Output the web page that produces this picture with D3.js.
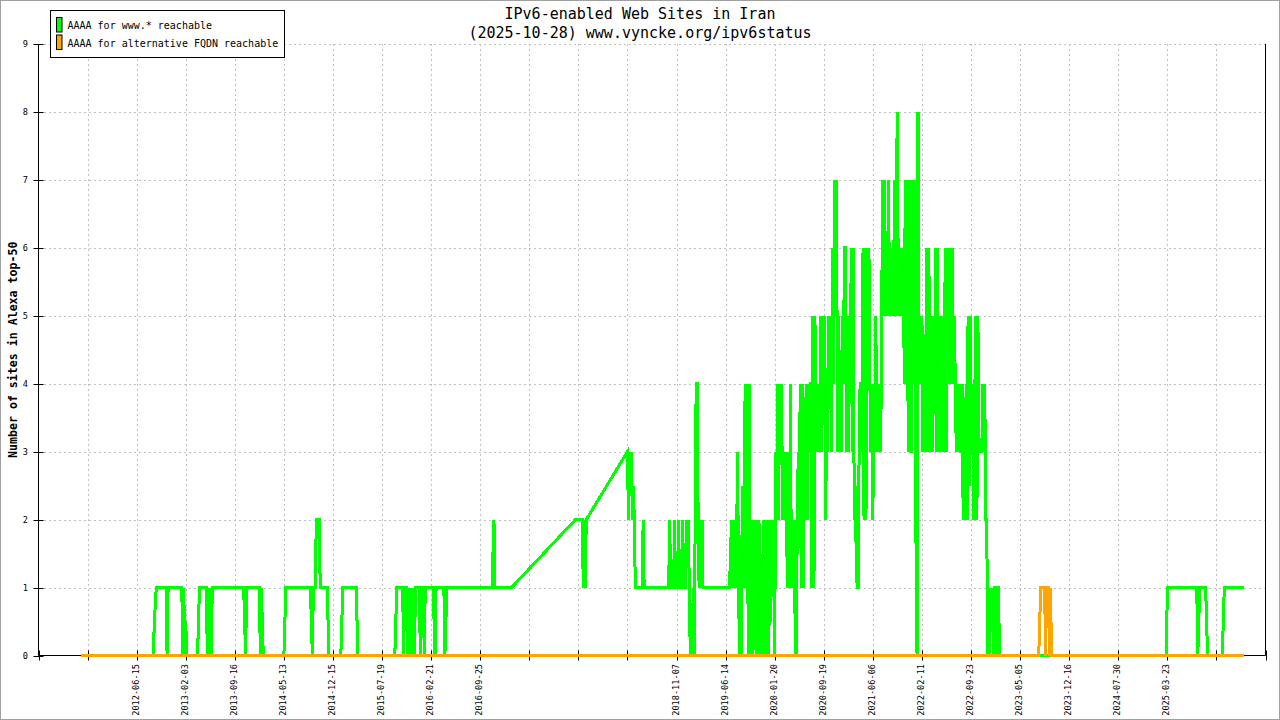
<!DOCTYPE html>
<html>
<head>
<meta charset="utf-8">
<script src="https://cdn.jsdelivr.net/npm/d3@7"></script>
<style>
	body { margin: 0; background: #fff; }
	svg { display: block; }
	text { font-family: "DejaVu Sans Mono", monospace; fill: #000; }
</style>
</head>
<body>
<svg id="chart" width="1280" height="720"></svg>
<script>

const TITLE = "IPv6-enabled Web Sites in Iran";
const SUBTITLE = "(2025-10-28) www.vyncke.org/ipv6status";
const Y_LABEL = "Number of sites in Alexa top-50";
const SERIES_NAMES = ["AAAA for www.* reachable", "AAAA for alternative FQDN reachable"];
const SERIES_COLORS = ["#00ff00", "#ffa500"];

// x axis is the measurement number, one tic every 50 measurements
const SAMPLE_STEP = 50;
const SAMPLE_MAX = 1250;
const Y_MAX = 9;

const xTickDates = [
	"", "", "2012-06-15", "2013-02-03", "2013-09-16", "2014-05-13", "2014-12-15",
	"2015-07-19", "2016-02-21", "2016-09-25", "", "", "", "2018-11-07", "2019-06-14",
	"2020-01-20", "2020-09-19", "2021-06-06", "2022-02-11", "2022-09-23", "2023-05-05",
	"2023-12-16", "2024-07-30", "2025-03-23", "", ""
];

const yTicks = [0, 1, 2, 3, 4, 5, 6, 7, 8, 9];

// www.* reachable : [measurement, sites]
const wwwHead = [
	[43, 0], [117, 0], [118, 0.5], [119, 0.75], [120, 1], [130, 1], [131, 0], [132, 1],
	[146, 1], [147, 0], [148, 1], [149, 0], [150, 0.5], [151, 0], [162, 0], [163, 0.5], [164, 1],
	[171, 1], [172, 0], [173, 1], [174, 0], [175, 1], [176, 0], [177, 1],
	[209, 1], [210, 0.5], [211, 0], [212, 1], [225, 1], [226, 0], [227, 1], [228, 0.5], [229, 0],
	[250, 0], [251, 0.5], [252, 1], [277, 1], [278, 0.5], [279, 0], [280, 1], [282, 1], [283, 2],
	[286, 2], [287, 1], [294, 1], [295, 0.5], [296, 0], [308, 0], [309, 0.5], [310, 1],
	[324, 1], [325, 0], [363, 0], [364, 0.5], [365, 1],
	[371, 1], [372, 0], [373, 1], [375, 1], [376, 0], [377, 1], [378, 0], [379, 1], [380, 0.5],
	[381, 0], [382, 1], [383, 0], [384, 1], [388, 1], [389, 0], [390, 1], [392, 1], [393, 0], [394, 1],
	[402, 1], [403, 0.5], [404, 0], [405, 1], [413, 1], [414, 0], [415, 0.5], [416, 1],
	[462, 1], [463, 1.5], [464, 2], [465, 1], [482, 1], [547, 2], [554, 2], [555, 1], [556, 2],
	[557, 1], [558, 2], [600, 3], [601, 2], [602, 3], [603, 2.5], [604, 3], [605, 2], [606, 2.5],
	[607, 2], [608, 1], [615, 1], [616, 2], [617, 1],
	[642, 1], [643, 2], [644, 1], [647, 1], [648, 2], [649, 1], [651, 1], [652, 2], [653, 1],
	[655, 1], [656, 2], [657, 1], [659, 1], [660, 2], [661, 1.5], [662, 2], [663, 1], [664, 0],
	[666, 0], [667, 1], [668, 0], [669, 2], [670, 4], [671, 4], [672, 2], [673, 1], [674, 2],
	[675, 1], [676, 2], [677, 1], [704, 1], [705, 1.5], [706, 2], [707, 1], [708, 2], [709, 1],
	[710, 2], [711, 1]
];

// consecutive measurements from wwwBurstStart on
const wwwBurstStart = 712;
const wwwBurst = [
	3, 1.5, 0, 1, 0, 2.5, 1, 3, 4, 1,
	4, 0, 4, 0, 2, 0, 2, 1.5, 2, 0,
	2, 0.5, 2, 0, 0, 1.5, 0, 2, 0, 2, 0,
	2, 0, 2, 0.5, 2, 1, 2, 0, 3, 2,
	4, 2, 4, 3, 4, 2, 3, 2, 3, 2,
	1, 3, 1, 4, 1, 2, 1, 2, 0, 0,
	2, 3, 2, 4, 1, 4, 1, 3, 2, 4,
	2, 4, 3, 4, 4, 1, 5, 1, 5, 3, 4,
	3, 4, 3, 5, 3, 5, 4, 5, 2, 4,
	3, 5, 4, 5, 3, 6, 4, 7, 5, 7,
	3, 5, 3, 4.5, 3, 5, 4, 6, 6, 3,
	5, 3, 5, 4, 6, 3, 6, 2, 2.5, 1.5,
	1, 1, 3, 4, 4, 3, 6, 2, 6, 2, 6,
	5, 6, 4, 3, 4, 2, 4, 3, 5, 3,
	4, 3, 4, 3, 5, 7, 5, 7, 5, 6,
	5, 7, 5, 6, 5, 6, 5, 7, 5, 7,
	8, 5, 6, 5, 6, 5, 6, 4, 7, 4,
	7, 3, 7, 3, 3, 7, 4, 7, 5, 1.5, 0,
	8, 4, 5, 4, 5, 3, 4.5, 3, 4.5, 6,
	3, 6, 4, 3, 5, 3, 5, 4, 6, 3,
	6, 3, 5, 3, 5, 4, 3, 5, 6, 3,
	6, 4, 5, 6, 4, 6, 4, 5, 4, 3,
	4, 3, 4, 3, 3, 4, 2, 3, 2, 4, 2,
	5, 2.5, 5, 3, 4, 3, 2, 4, 5, 2,
	5, 3, 3, 3, 3, 4, 3, 4, 2, 2,
	0, 1, 0, 1, 0.5, 1, 0, 1, 1, 0,
	1, 1, 0
];

const wwwTail = [
	[1149, 0], [1150, 1], [1180, 1], [1181, 0], [1182, 0.5], [1183, 1], [1189, 1], [1190, 0.5],
	[1191, 0], [1206, 0], [1207, 0.5], [1208, 1], [1228, 1]
];

// alternative FQDN reachable : [measurement, sites]
const altPoints = [
	[43, 0], [1019, 0], [1020, 0.5], [1021, 1], [1025, 1], [1026, 0], [1027, 1], [1029, 1],
	[1030, 0], [1031, 1], [1032, 0], [1228, 0]
];

class StatusChart {

	constructor(element){
		this.svg = d3.select(element);
		this.width = +this.svg.attr("width");
		this.height = +this.svg.attr("height");
		this.plot = {left: 38.5, right: 1265.5, top: 44, bottom: 655.5};

		this.x = d3.scaleLinear().domain([0, SAMPLE_MAX]).range([this.plot.left, this.plot.right]);
		this.y = d3.scaleLinear().domain([0, Y_MAX]).range([this.plot.bottom, this.plot.top]);

		this.xTicks = d3.range(0, SAMPLE_MAX + 1, SAMPLE_STEP);

		let www = wwwHead.concat(wwwBurst.map((v, i) => [wwwBurstStart + i, v]), wwwTail);
		this.series = [www, altPoints];
	}

	draw(){
		this.svg.append("rect")
			.attr("x", 0).attr("y", 0)
			.attr("width", this.width).attr("height", this.height)
			.attr("fill", "#fff");

		this.drawGrid();
		this.drawAxes();
		this.drawSeries();
		this.drawTitles();
		this.drawLegend();

		// thin frame round the picture
		this.svg.append("rect")
			.attr("x", 0.5).attr("y", 0.5)
			.attr("width", this.width - 1).attr("height", this.height - 1)
			.attr("fill", "none")
			.attr("stroke", "#a0a0a0");
	}

	drawGrid(){
		let grid = this.svg.append("g")
			.attr("stroke", "#c0c0c0")
			.attr("stroke-dasharray", "2,3")
			.attr("shape-rendering", "crispEdges")
			.attr("fill", "none");

		grid.selectAll(".gx")
			.data(this.xTicks.slice(1, -1))
			.join("line")
			.attr("x1", d => Math.round(this.x(d)) + 0.5)
			.attr("x2", d => Math.round(this.x(d)) + 0.5)
			.attr("y1", this.plot.top)
			.attr("y2", this.plot.bottom);

		grid.selectAll(".gy")
			.data(yTicks.slice(1))
			.join("line")
			.attr("x1", this.plot.left)
			.attr("x2", this.plot.right)
			.attr("y1", d => Math.round(this.y(d)) + 0.5)
			.attr("y2", d => Math.round(this.y(d)) + 0.5);
	}

	drawAxes(){
		let xAxis = d3.axisBottom(this.x)
			.tickValues(this.xTicks)
			.tickFormat((d, i) => xTickDates[i])
			.tickSize(5);

		let gx = this.svg.append("g")
			.attr("transform", `translate(0, ${this.plot.bottom})`)
			.call(xAxis);
		gx.select(".domain").remove();
		gx.selectAll(".tick").attr("transform", d => `translate(${Math.round(this.x(d)) + 0.5}, 0)`);
		gx.selectAll(".tick line").attr("y1", -5).attr("y2", 5).attr("stroke", "#000");
		gx.selectAll(".tick text")
			.attr("transform", "rotate(-90)")
			.attr("x", -8.5)
			.attr("y", 1)
			.attr("dy", null)
			.style("text-anchor", "end")
			.style("font-size", "8.6px")
			.style("font-family", "'DejaVu Sans Mono', monospace");

		let yAxis = d3.axisLeft(this.y)
			.tickValues(yTicks)
			.tickFormat(d3.format("d"))
			.tickSize(5)
			.tickPadding(5.5);

		let gy = this.svg.append("g")
			.attr("transform", `translate(${this.plot.left}, 0)`)
			.call(yAxis);
		gy.select(".domain").remove();
		gy.selectAll(".tick").attr("transform", d => `translate(0, ${Math.round(this.y(d)) + 0.5})`);
		gy.selectAll(".tick line").attr("x1", 5).attr("x2", -5).attr("stroke", "#000");
		gy.selectAll(".tick text")
			.style("font-size", "8.6px")
			.style("font-family", "'DejaVu Sans Mono', monospace");

		// border: left, bottom and right
		let p = this.plot;
		this.svg.append("path")
			.attr("d", `M${p.left},${p.top}V${p.bottom}H${p.right}V${p.top}`)
			.attr("fill", "none")
			.attr("stroke", "#000");
	}

	drawSeries(){
		let line = d3.line()
			.x(d => this.x(d[0]))
			.y(d => this.y(d[1]));

		this.svg.append("g")
			.selectAll("path")
			.data(this.series)
			.join("path")
			.attr("d", line)
			.attr("fill", "none")
			.attr("stroke", (d, i) => SERIES_COLORS[i])
			.attr("stroke-width", 3)
			.attr("shape-rendering", "crispEdges");
	}

	drawTitles(){
		this.svg.append("text")
			.attr("x", this.width / 2)
			.attr("y", 19)
			.attr("text-anchor", "middle")
			.style("font-size", "15px")
			.text(TITLE);

		this.svg.append("text")
			.attr("x", this.width / 2)
			.attr("y", 37.5)
			.attr("text-anchor", "middle")
			.style("font-size", "15px")
			.text(SUBTITLE);

		this.svg.append("text")
			.attr("transform", `translate(16.5, ${(this.plot.top + this.plot.bottom) / 2}) rotate(-90)`)
			.attr("text-anchor", "middle")
			.style("font-size", "11.6px")
			.style("font-weight", "bold")
			.text(Y_LABEL);
	}

	drawLegend(){
		let legend = this.svg.append("g");

		legend.append("rect")
			.attr("x", 50.5).attr("y", 10.5)
			.attr("width", 234).attr("height", 47)
			.attr("fill", "#fff")
			.attr("stroke", "#000");

		let rows = legend.selectAll(".row")
			.data(SERIES_NAMES)
			.join("g")
			.attr("transform", (d, i) => `translate(0, ${i * 17.5})`);

		rows.append("rect")
			.attr("x", 56.5).attr("y", 17.5)
			.attr("width", 5.5).attr("height", 14.5)
			.attr("fill", (d, i) => SERIES_COLORS[i])
			.attr("stroke", "#000");

		rows.append("text")
			.attr("x", 67.5)
			.attr("y", 29.3)
			.style("font-size", "10px")
			.text(d => d);
	}
}

let chart = new StatusChart("#chart");
chart.draw();

</script>
</body>
</html>
